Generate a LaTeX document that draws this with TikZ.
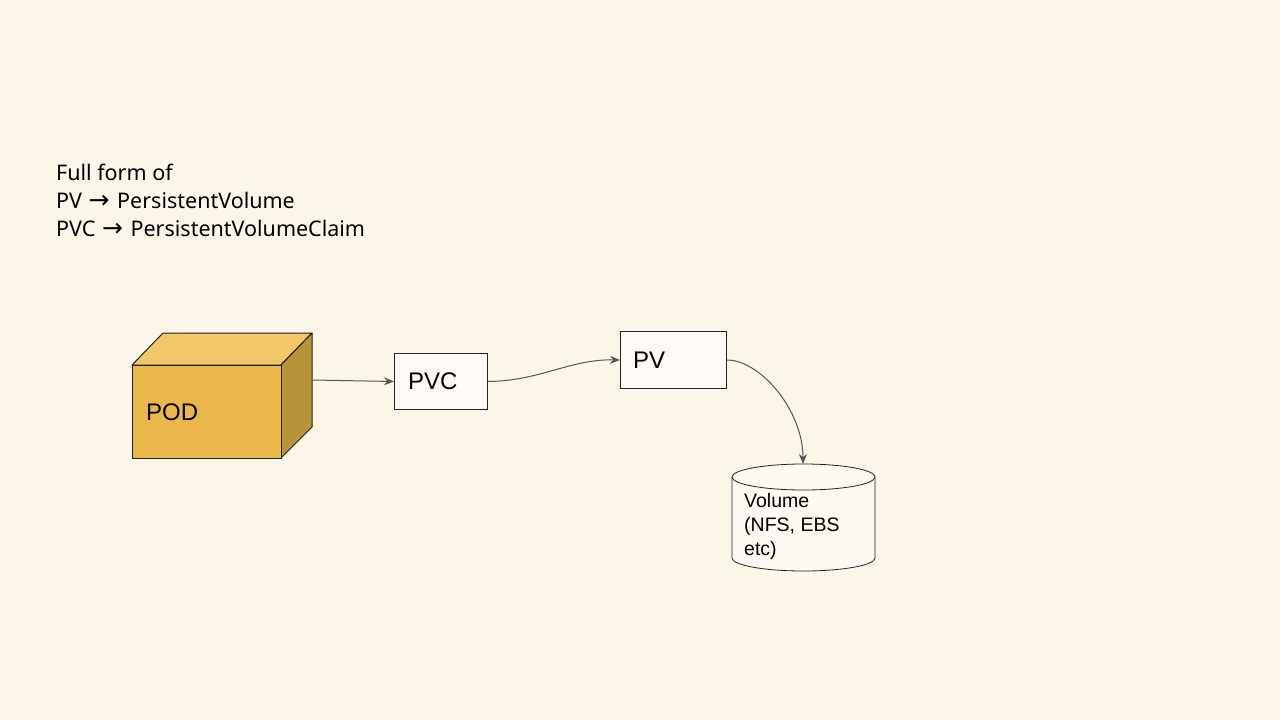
\documentclass[tikz,border=0pt]{standalone}
\usepackage{fontspec}
\setmainfont{Liberation Sans}
\newfontfamily\hdrfont{Noto Sans}
\newfontfamily\symfont{DejaVu Sans}
\usetikzlibrary{arrows.meta,shapes.geometric}
\definecolor{bg}{HTML}{FCF6E8}
\definecolor{cubefront}{HTML}{EDB84B}
\definecolor{cubetop}{HTML}{F1C869}
\definecolor{cubeside}{HTML}{B9933A}
\definecolor{edge}{HTML}{222222}
\definecolor{conn}{HTML}{555555}
\definecolor{cylfill}{HTML}{FDF9F0}
\tikzset{
  x=1pt,y=-1pt,
  boxnode/.style={draw=edge,line width=1pt,fill=white!60!bg,anchor=north west,inner sep=0pt},
  conline/.style={draw=conn,line width=1pt,-{Stealth[length=10pt,width=8pt]}},
  cubeline/.style={draw=edge,line width=1pt,line join=round},
  lbl/.style={anchor=west,inner sep=0pt,font=\fontsize{24}{28}\selectfont},
  hdr/.style={anchor=base west,inner sep=0pt,font=\hdrfont\fontsize{21.5}{28}\selectfont},
}
\newcommand{\hdrarrow}{\hspace{1pt}{\symfont\fontsize{25}{20}\selectfont →}\hspace{2pt}}
\begin{document}
\begin{tikzpicture}
\fill[bg] (0,0) rectangle (1280,720);
\useasboundingbox (0,0) rectangle (1280,720);
% header
\node[hdr] (hdr) at (56,180) {Full form of};
\node[hdr] (hdr2) at (56,208) {PV \hdrarrow{} PersistentVolume};
\node[hdr] (hdr3) at (56,236) {PVC \hdrarrow{} PersistentVolumeClaim};
% cube
\filldraw[cubeline,fill=cubetop] (132,365) -- (163,333) -- (312,333) -- (281,365) -- cycle;
\filldraw[cubeline,fill=cubeside] (281,365) -- (312,333) -- (312,427) -- (281,458) -- cycle;
\filldraw[cubeline,fill=cubefront] (132,365) rectangle (281,458);
\node[lbl] (pod) at (146,412) {POD};
\coordinate (podr) at (312,380);
% PVC
\node[boxnode,minimum width=93pt,minimum height=56pt] (pvc) at (394,353) {};
\node[lbl] at (408,381) {PVC};
% PV
\node[boxnode,minimum width=106pt,minimum height=57pt] (pv) at (620,331) {};
\node[lbl] at (633,360) {PV};
% cylinder
\path[draw=edge,line width=0.8pt,fill=cylfill] (732,477) -- (732,558) arc[start angle=180,end angle=0,x radius=71.5,y radius=13] -- (875,477) arc[start angle=0,end angle=-180,x radius=71.5,y radius=13] -- cycle;
\draw[edge,line width=0.8pt] (732,477) arc[start angle=180,end angle=0,x radius=71.5,y radius=13];
\coordinate (voltop) at (803,464);
\node[anchor=north west,inner sep=0pt,align=left,font=\fontsize{19.5}{24}\selectfont] (vol) at (744,493) {Volume\\(NFS, EBS\\etc)};
% connectors
\draw[conline] (podr) -- (pvc.west);
\draw[conline] (pvc.east) .. controls (540,381) and (570,359) .. (pv.west);
\draw[conline] (pv.east) .. controls (760,360) and (803,410) .. (voltop);
\end{tikzpicture}
\end{document}
